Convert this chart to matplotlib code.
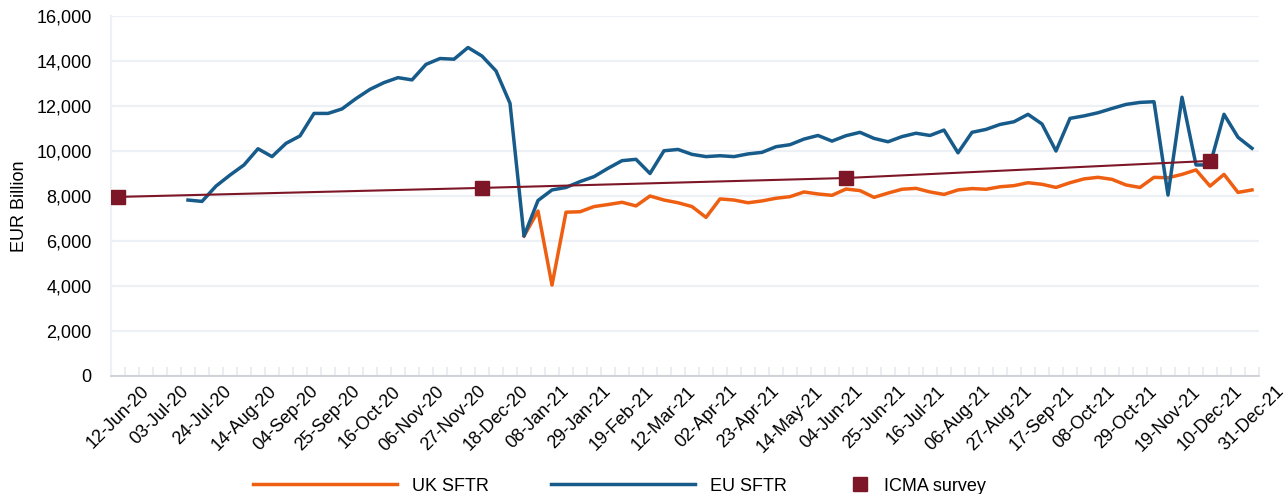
import numpy as np
import pandas as pd
import matplotlib
matplotlib.use("Agg")
import matplotlib.pyplot as plt

plt.rcParams['font.family'] = ['Liberation Sans', 'DejaVu Sans']

# weekly categories, 12-Jun-20 .. 31-Dec-21
dates = pd.date_range('2020-06-12', '2021-12-31', freq='7D')
labels = [d.strftime('%d-%b-%y') for d in dates]

# EU SFTR, EUR bn (starts week 5)
eu_start = 5
eu_sftr = [7820, 7760, 8440, 8930, 9380, 10100, 9750, 10340, 10670, 11670,
           11670, 11870, 12330, 12740, 13040, 13260, 13160, 13850, 14110, 14080,
           14600, 14220, 13560, 12120, 6220, 7800, 8270, 8380, 8640, 8860,
           9230, 9570, 9630, 9000, 10010, 10070, 9850, 9750, 9790, 9750,
           9870, 9940, 10190, 10280, 10530, 10690, 10440, 10680, 10830, 10560,
           10410, 10640, 10790, 10690, 10930, 9920, 10830, 10960, 11180, 11300,
           11630, 11200, 10000, 11450, 11560, 11700, 11890, 12070, 12160, 12190,
           8040, 12390, 9380, 9380, 11630, 10610, 10120]

# UK SFTR, EUR bn (starts 01-Jan-21)
uk_start = 29
uk_sftr = [6220, 7330, 4040, 7280, 7300, 7530, 7620, 7720, 7560, 8000,
           7820, 7700, 7530, 7050, 7870, 7820, 7700, 7780, 7900, 7970,
           8180, 8090, 8030, 8310, 8240, 7940, 8130, 8300, 8340, 8180,
           8070, 8270, 8330, 8300, 8410, 8460, 8590, 8520, 8380, 8590,
           8760, 8830, 8740, 8490, 8380, 8830, 8810, 8960, 9160, 8440,
           8960, 8160, 8270]

# ICMA survey (Jun-20, Dec-20, Jun-21, Dec-21)
icma_idx = [0, 26, 52, 78]
icma = [7960, 8360, 8800, 9560]

c_uk = '#EE5F12'
c_eu = '#175B8A'
c_icma = '#7D1626'

W, H = 1286, 494
fig = plt.figure(figsize=(W / 100, H / 100), dpi=100)
ax = fig.add_axes([111 / W, 1 - 376 / H, 1148 / W, 360 / H])

x_eu = np.arange(eu_start, eu_start + len(eu_sftr))
x_uk = np.arange(uk_start, uk_start + len(uk_sftr))

l_uk, = ax.plot(x_uk, uk_sftr, color=c_uk, lw=2.5, label='UK SFTR', zorder=3)
l_eu, = ax.plot(x_eu, eu_sftr, color=c_eu, lw=2.5, label='EU SFTR', zorder=4)
ax.plot(icma_idx, icma, color=c_icma, lw=1.5, zorder=5)
l_icma, = ax.plot(icma_idx, icma, ls='none', marker='s', ms=10, color=c_icma,
                  label='ICMA survey', zorder=6)

ax.set_xlim(-0.5, len(dates) - 0.5)
ax.set_ylim(0, 16000)
ax.set_yticks(np.arange(0, 16001, 2000))
ax.set_yticklabels([f'{v:,}' for v in range(0, 16001, 2000)])
ax.yaxis.grid(True, color='#EDF0F4', lw=1.6)
ax.set_axisbelow(True)

ax.set_xticks(np.arange(0, len(dates), 3))
ax.set_xticklabels(labels[::3], rotation=45, ha='center', va='top')
ax.set_xticks(np.arange(-0.5, len(dates), 1), minor=True)
ax.tick_params(axis='x', which='major', length=0, pad=5, labelsize=13)
ax.tick_params(axis='x', which='minor', direction='in', length=6.5,
               color='#E6E9EE', width=1.2)
ax.tick_params(axis='y', length=0, pad=14, labelsize=13)

for s in ['top', 'right']:
    ax.spines[s].set_visible(False)
ax.spines['left'].set_color('#EDF0F4')
ax.spines['left'].set_linewidth(1.6)
ax.spines['bottom'].set_color('#C8CCD2')
ax.spines['bottom'].set_linewidth(1.2)

ax.set_ylabel('EUR Billion', fontsize=13)
ax.yaxis.set_label_coords(-0.0722, 0.472)

leg_y = 1 - 486 / H
leg1 = fig.legend(handles=[l_uk, l_eu], loc='center left',
                  bbox_to_anchor=(253 / W, leg_y), ncol=2, frameon=False,
                  fontsize=13, handlelength=8.0, handletextpad=0.83,
                  columnspacing=3.4, borderpad=0, borderaxespad=0)
leg2 = fig.legend(handles=[l_icma], loc='center left',
                  bbox_to_anchor=(851 / W, leg_y), frameon=False,
                  fontsize=13, handlelength=1.0, handletextpad=0.85,
                  borderpad=0, borderaxespad=0)

fig.savefig('out.png', dpi=100)
